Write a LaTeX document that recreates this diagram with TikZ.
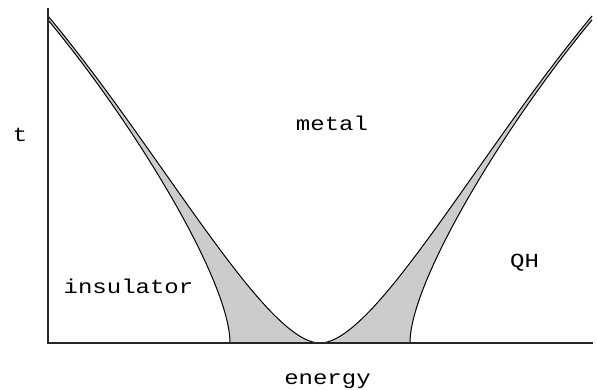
\documentclass[tikz,border=0pt]{standalone}
\usepackage{fontspec}
\newfontfamily\labelfont[FakeStretch=1.2]{Liberation Mono}
\begin{document}
\begin{tikzpicture}[x=1pt,y=-1pt,
  lbl/.style={font=\labelfont\fontsize{20}{22}\selectfont, inner sep=0pt, anchor=base},
  curve/.style={line width=1pt, black},
  axis/.style={line width=1.4pt, black!85},
  band/.style={fill=black!20}]
\useasboundingbox (0,0) rectangle (597,389);
% key points
\coordinate (oL) at (48,16);   \coordinate (iL) at (48,20);
\coordinate (oR) at (592,16);  \coordinate (iR) at (592,20);
\coordinate (bot) at (320,343);
\coordinate (iLb) at (230,343); \coordinate (iRb) at (410,343);
% gray bands between the inner and the outer boundary
\fill[band] (iL) .. controls (131.6,120) and (230,280) .. (iLb)
  -- (iRb) .. controls (410,280) and (508.4,120) .. (iR)
  -- (oR) .. controls (480,150) and (375,343) .. (bot)
  .. controls (265,343) and (160,150) .. (oL) -- cycle;
% inner boundaries
\draw[curve] (iL) .. controls (131.6,120) and (230,280) .. (iLb);
\draw[curve] (iR) .. controls (508.4,120) and (410,280) .. (iRb);
% outer boundary
\draw[curve] (oL) .. controls (160,150) and (265,343) .. (bot)
  .. controls (375,343) and (480,150) .. (oR);
% axes
\coordinate (ytop) at (48,8); \coordinate (orig) at (48,343); \coordinate (xend) at (593,343);
\draw[axis] (ytop) -- (orig) -- (xend);
% labels
\node[lbl] (t) at (20,141) {t};
\node[lbl] (metal) at (332,130) {metal};
\node[lbl] (insulator) at (128.5,293) {insulator};
\node[lbl] (qh) at (524.5,267) {QH};
\node[lbl] (energy) at (327.5,384) {energy};
\end{tikzpicture}
\end{document}
